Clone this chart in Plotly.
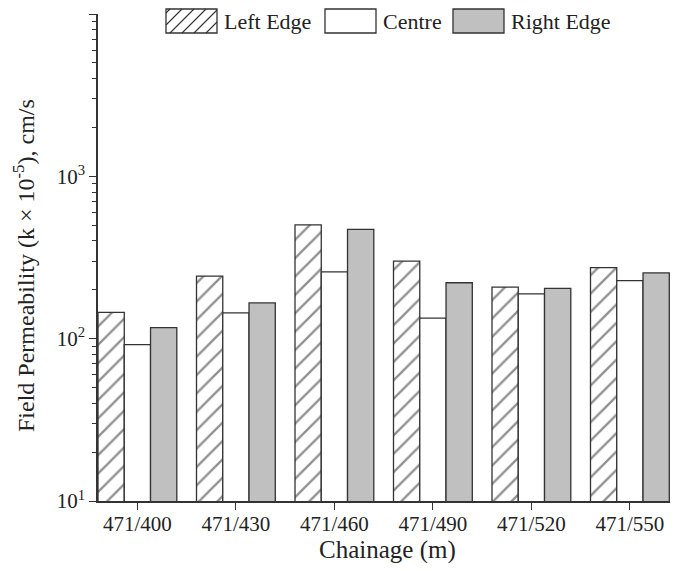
import plotly.graph_objects as go

categories = ["471/400", "471/430", "471/460", "471/490", "471/520", "471/550"]
left_edge = [145, 243, 503, 300, 208, 274]
centre = [92, 144, 258, 134, 189, 228]
right_edge = [117, 166, 471, 221, 204, 254]
series_names = ["Left Edge", "Centre", "Right Edge"]
y_tickvals = [10, 100, 1000, 10000]
y_ticktext = ["10<sup>1</sup>", "10<sup>2</sup>", "10<sup>3</sup>", "10<sup>4</sup>"]
minor_vals = [m * d for d in (10, 100, 1000) for m in range(2, 10)]
x_title = "Chainage (m)"
y_title = "Field Permeability (k × 10<sup>-5</sup>), cm/s"

font_family = "Liberation Serif, Times New Roman, serif"
line_col = "#333333"
grey = "#c0c0c0"
text_col = "#222222"

# figure geometry (page has 8px body margin)
W, H = 670, 555
ML, MR, MT, MB = 90, 0, 6, 62
OFF = 8
PW = W - ML - MR
PH = H - MT - MB
CAT_PX = 98.5
x_range = [-0.4, -0.4 + PW / CAT_PX]


def px(x):  # window pixel -> paper x
    return (x - OFF - ML) / PW


def py(y):  # window pixel -> paper y
    return (H - MB + OFF - y) / PH


fig = go.Figure()
fig.add_trace(go.Bar(
    name=series_names[0], x=categories, y=left_edge, showlegend=False,
    marker=dict(color="white", line=dict(color=line_col, width=1.3),
                pattern=dict(shape="/", fgcolor="#222222", bgcolor="white",
                             size=13, solidity=0.18, fillmode="overlay")),
))
fig.add_trace(go.Bar(
    name=series_names[1], x=categories, y=centre, showlegend=False,
    marker=dict(color="white", line=dict(color=line_col, width=1.3)),
))
fig.add_trace(go.Bar(
    name=series_names[2], x=categories, y=right_edge, showlegend=False,
    marker=dict(color=grey, line=dict(color=line_col, width=1.3)),
))

# manual legend with large swatches
shapes = []
annotations = []
box_w, box_h = 51, 24
box_y0, box_y1 = 9, 9 + box_h
box_x = [166, 325, 453]
fills = ["white", "white", grey]
for i, name in enumerate(series_names):
    x0 = box_x[i]
    x1 = x0 + box_w
    shapes.append(dict(type="rect", xref="paper", yref="paper",
                       x0=px(x0), x1=px(x1), y0=py(box_y1), y1=py(box_y0),
                       fillcolor=fills[i], line=dict(color=line_col, width=1.3)))
    if i == 0:
        segs = []
        step = 12
        k = -box_h + 4
        while k < box_w:
            xa, ya = x0 + k, box_y1
            xb, yb = x0 + k + box_h, box_y0
            if xa < x0:
                ya = box_y1 - (x0 - xa)
                xa = x0
            if xb > x1:
                yb = box_y0 + (xb - x1)
                xb = x1
            if xb - xa > 1:
                segs.append(f"M{px(xa)},{py(ya)} L{px(xb)},{py(yb)}")
            k += step
        shapes.append(dict(type="path", xref="paper", yref="paper",
                           path=" ".join(segs), line=dict(color=line_col, width=1.1)))
    annotations.append(dict(text=name, xref="paper", yref="paper",
                            x=px(x1 + 5), y=py((box_y0 + box_y1) / 2),
                            xanchor="left", yanchor="middle", showarrow=False,
                            font=dict(size=22, family=font_family, color=text_col)))

# axis titles
annotations.append(dict(text=y_title, xref="paper", yref="paper",
                        x=px(24), y=py(266), textangle=-90,
                        xanchor="center", yanchor="middle", showarrow=False,
                        font=dict(size=24, family=font_family, color=text_col)))
annotations.append(dict(text=x_title, xref="paper", yref="paper",
                        x=px(387), y=py(550),
                        xanchor="center", yanchor="middle", showarrow=False,
                        font=dict(size=25, family=font_family, color=text_col)))

fig.update_layout(
    width=W, height=H,
    margin=dict(l=ML, r=MR, t=MT, b=MB),
    plot_bgcolor="white", paper_bgcolor="white",
    barmode="group", bargap=0.2, bargroupgap=0,
    font=dict(family=font_family, size=21, color=text_col),
    showlegend=False,
    shapes=shapes, annotations=annotations,
    xaxis=dict(
        range=x_range, showline=True, linecolor=line_col, linewidth=1.5,
        ticks="outside", ticklen=7, tickcolor=line_col, showgrid=False,
        tickfont=dict(size=21), automargin=False, ticklabelstandoff=-4,
    ),
    yaxis=dict(
        type="log", range=[1, 4], showline=True, linecolor=line_col, linewidth=1.5,
        ticks="outside", ticklen=7, tickcolor=line_col, showgrid=False,
        tickvals=y_tickvals, ticktext=y_ticktext, tickfont=dict(size=21),
        minor=dict(ticks="outside", ticklen=4, tickcolor=line_col, showgrid=False,
                   tickvals=minor_vals),
        zeroline=False, automargin=False,
    ),
)

fig.write_html("out.html")
